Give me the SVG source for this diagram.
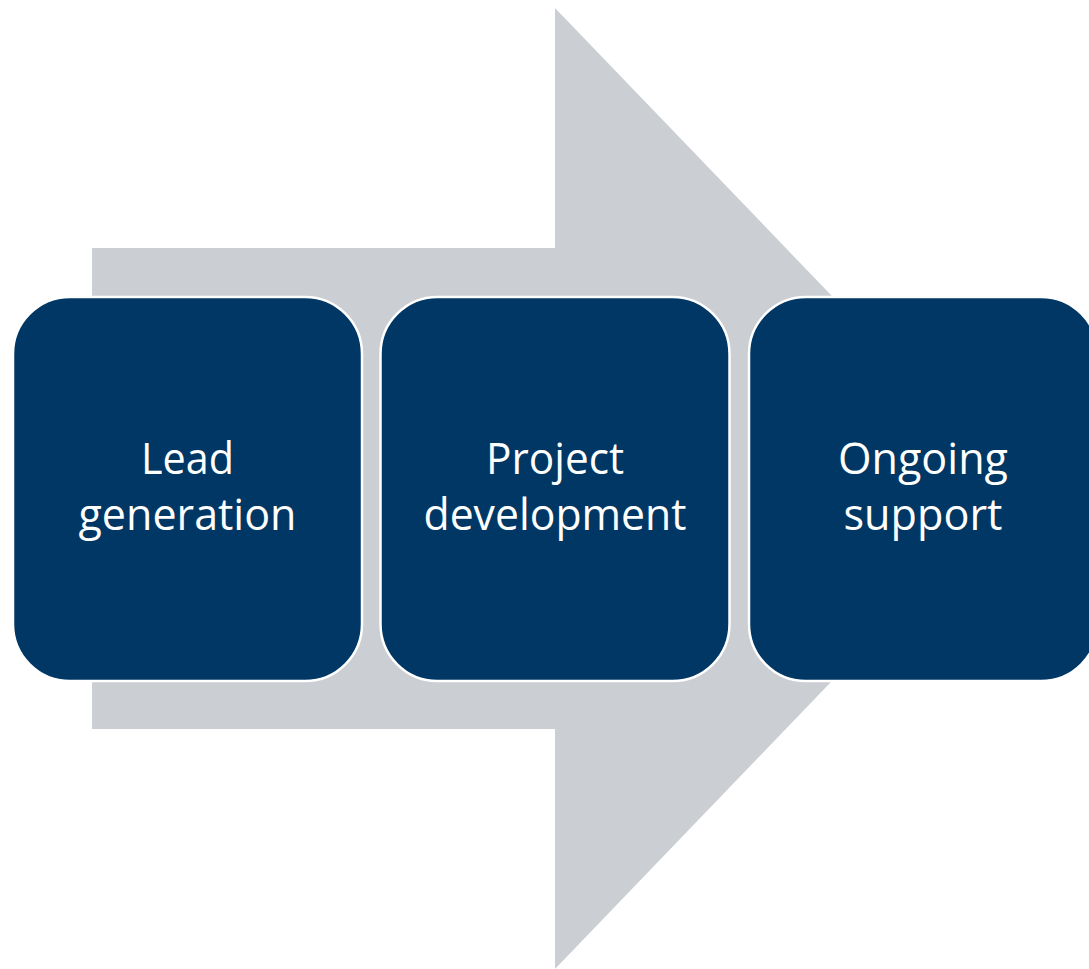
<svg xmlns="http://www.w3.org/2000/svg" width="1089" height="969" viewBox="0 0 1089 969">
<style>
.box{fill:#003764;stroke:#ffffff;stroke-width:2.5}
.lbl{fill:#ffffff;font-family:"Open Sans","Liberation Sans",sans-serif;font-size:44px;text-anchor:middle}
</style>
<rect width="1089" height="969" fill="#ffffff"/>
<g id="arrow">
<polygon points="92,248 555,248 555,8 1017,488.5 555,969 555,729 92,729" fill="#CBCED3"/>
</g>
<g id="node-lead">
<rect class="box" x="13" y="297" width="349" height="384" rx="57" ry="57"/>
<text class="lbl" x="187.5" y="474" textLength="93" lengthAdjust="spacingAndGlyphs">Lead</text>
<text class="lbl" x="187.5" y="530" textLength="218" lengthAdjust="spacingAndGlyphs">generation</text>
</g>
<g id="node-project">
<rect class="box" x="380.5" y="297" width="349" height="384" rx="57" ry="57"/>
<text class="lbl" x="555" y="474" textLength="138" lengthAdjust="spacingAndGlyphs">Project</text>
<text class="lbl" x="555" y="530" textLength="263" lengthAdjust="spacingAndGlyphs">development</text>
</g>
<g id="node-ongoing">
<rect class="box" x="749" y="297" width="349" height="384" rx="57" ry="57"/>
<text class="lbl" x="923" y="474" textLength="170" lengthAdjust="spacingAndGlyphs">Ongoing</text>
<text class="lbl" x="923" y="530" textLength="159" lengthAdjust="spacingAndGlyphs">support</text>
</g>
<g id="connectors"></g>
</svg>
